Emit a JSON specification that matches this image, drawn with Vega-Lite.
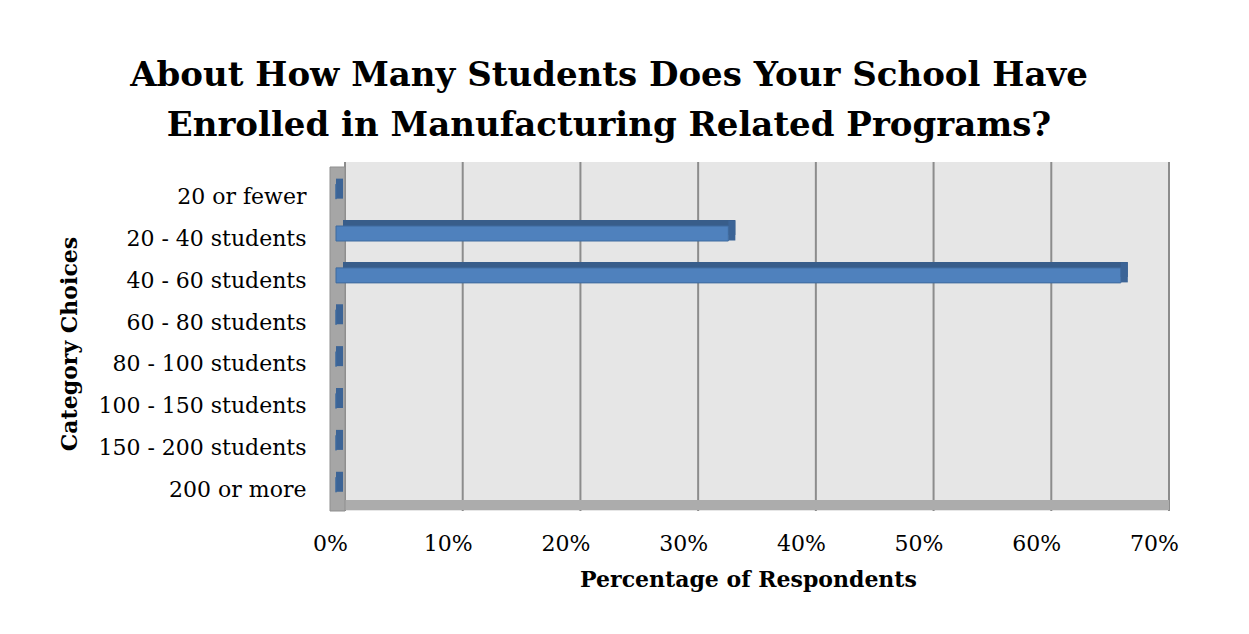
{
  "$schema": "https://vega.github.io/schema/vega-lite/v6.json",
  "autosize": {"type": "none"},
  "width": 824,
  "height": 335,
  "padding": {"left": 336, "top": 176, "right": 89, "bottom": 123},
  "background": "white",
  "title": {
    "text": ["About How Many Students Does Your School Have", "Enrolled in Manufacturing Related Programs?"],
    "font": "DejaVu Serif",
    "fontSize": 34,
    "fontWeight": "bold",
    "color": "black",
    "lineHeight": 50.5,
    "anchor": "middle",
    "frame": "group",
    "dx": -139,
    "offset": 18
  },
  "data": {
    "values": [
      {"category": "20 or fewer", "share": 0},
      {"category": "20 - 40 students", "share": 0.3333},
      {"category": "40 - 60 students", "share": 0.6667},
      {"category": "60 - 80 students", "share": 0},
      {"category": "80 - 100 students ", "share": 0},
      {"category": "100 - 150 students", "share": 0},
      {"category": "150 - 200 students", "share": 0},
      {"category": "200 or more", "share": 0}
    ]
  },
  "layer": [
    {
      "data": {"values": [{"from": 0, "to": 0.7}]},
      "mark": {"type": "rect", "fill": "#e6e6e6", "xOffset": 9, "x2Offset": 9, "yOffset": -14},
      "encoding": {
        "x": {"field": "from", "type": "quantitative", "title": "Percentage of Respondents", "scale": {"domain": [0, 0.7], "nice": false}},
        "x2": {"field": "to"}
      }
    },
    {
      "data": {"values": [{"tick": 0}, {"tick": 0.1}, {"tick": 0.2}, {"tick": 0.3}, {"tick": 0.4}, {"tick": 0.5}, {"tick": 0.6}, {"tick": 0.7}]},
      "mark": {"type": "rule", "color": "#8c8c8c", "strokeWidth": 2, "xOffset": 9, "yOffset": -14},
      "encoding": {
        "x": {"field": "tick", "type": "quantitative", "title": "Percentage of Respondents"}
      }
    },
    {
      "data": {"values": [{"from": 0, "to": 0.7, "category": "200 or more"}]},
      "mark": {"type": "rule", "color": "#acacac", "strokeWidth": 10, "xOffset": -6, "x2Offset": 9, "yOffset": 15},
      "encoding": {
        "x": {"field": "from", "type": "quantitative", "title": "Percentage of Respondents"},
        "x2": {"field": "to"},
        "y": {"field": "category", "type": "nominal", "sort": null, "title": "Category Choices", "scale": {"type": "band", "paddingInner": 0, "paddingOuter": 0, "domain": ["20 or fewer", "20 - 40 students", "40 - 60 students", "60 - 80 students", "80 - 100 students ", "100 - 150 students", "150 - 200 students", "200 or more"]}}
      }
    },
    {
      "data": {"values": [{"from": 0, "to": 0}]},
      "mark": {"type": "rect", "fill": "#a6a6a6", "stroke": "#8f8f8f", "strokeWidth": 1, "xOffset": -6, "x2Offset": 9, "yOffset": -9},
      "encoding": {
        "x": {"field": "from", "type": "quantitative", "title": "Percentage of Respondents"},
        "x2": {"field": "to"}
      }
    },
    {
      "mark": {"type": "bar", "size": 15, "fill": "#385d8a", "xOffset": 7, "x2Offset": 7, "yOffset": -11.3},
      "encoding": {
        "x": {"field": "share", "type": "quantitative", "title": "Percentage of Respondents"},
        "y": {"field": "category", "type": "nominal", "sort": null, "title": "Category Choices"}
      }
    },
    {
      "mark": {"type": "tick", "orient": "vertical", "thickness": 7, "size": 20, "color": "#3c6496", "opacity": 1, "xOffset": 3.5, "yOffset": -8.3},
      "encoding": {
        "x": {"field": "share", "type": "quantitative", "title": "Percentage of Respondents"},
        "y": {"field": "category", "type": "nominal", "sort": null, "title": "Category Choices"}
      }
    },
    {
      "mark": {"type": "bar", "size": 15, "fill": "#4f81bd", "stroke": "#3f6a9e", "strokeWidth": 1, "yOffset": -5.3},
      "encoding": {
        "x": {"field": "share", "type": "quantitative", "title": "Percentage of Respondents", "axis": {"values": [0, 0.1, 0.2, 0.3, 0.4, 0.5, 0.6, 0.7], "format": ".0%"}},
        "y": {"field": "category", "type": "nominal", "sort": null, "title": "Category Choices"}
      }
    }
  ],
  "config": {
    "view": {"stroke": null},
    "axisX": {
      "domain": false,
      "offset": -6,
      "ticks": false,
      "tickSize": 0,
      "grid": false,
      "labelFlush": false,
      "labelOffset": -6,
      "labelPadding": 28.6,
      "labelFont": "DejaVu Serif",
      "labelFontSize": 22,
      "labelColor": "black",
      "titleFont": "DejaVu Serif",
      "titleFontSize": 22,
      "titleFontWeight": "bold",
      "titleColor": "black",
      "titlePadding": 15
    },
    "axisY": {
      "domain": false,
      "ticks": false,
      "tickSize": 0,
      "grid": false,
      "labelPadding": 30,
      "labelFont": "DejaVu Serif",
      "labelFontSize": 22,
      "labelColor": "black",
      "labelLimit": 0,
      "titleFont": "DejaVu Serif",
      "titleFontSize": 22,
      "titleFontWeight": "bold",
      "titleColor": "black",
      "titlePadding": 55
    }
  }
}
